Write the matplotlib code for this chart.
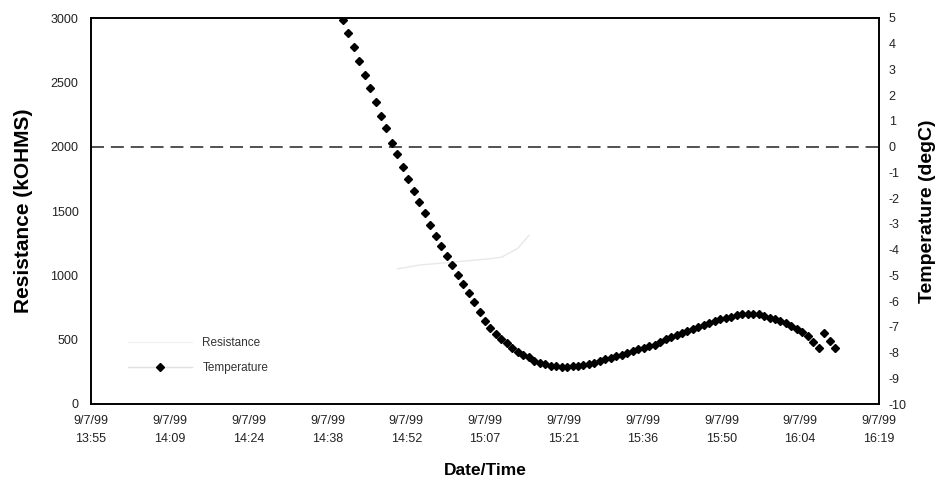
import matplotlib
matplotlib.use('Agg')
import matplotlib.pyplot as plt
from matplotlib.lines import Line2D
import numpy as np

plt.rcParams['font.family'] = ['Liberation Sans', 'DejaVu Sans']
plt.rcParams['axes.unicode_minus'] = False

# x axis: minutes after 9/7/99 13:55
tick_labels = ['9/7/99\n13:55', '9/7/99\n14:09', '9/7/99\n14:24', '9/7/99\n14:38',
               '9/7/99\n14:52', '9/7/99\n15:07', '9/7/99\n15:21', '9/7/99\n15:36',
               '9/7/99\n15:50', '9/7/99\n16:04', '9/7/99\n16:19']
x_start = 0
x_end = 144

# temperature log (degC), one reading per minute starting at 14:41
temp_start_min = 46
temp_c = [4.92, 4.41, 3.88, 3.34, 2.78, 2.27, 1.75, 1.20, 0.71, 0.15,
          -0.29, -0.78, -1.26, -1.71, -2.16, -2.59, -3.05, -3.46, -3.86, -4.25,
          -4.60, -4.99, -5.34, -5.68, -6.05, -6.41, -6.76, -7.05, -7.28, -7.48,
          -7.63, -7.81, -7.96, -8.08, -8.19, -8.31, -8.39, -8.45, -8.51, -8.54,
          -8.56, -8.56, -8.54, -8.51, -8.47, -8.43, -8.39, -8.33, -8.27, -8.21,
          -8.14, -8.08, -8.02, -7.94, -7.88, -7.83, -7.75, -7.69, -7.59, -7.48,
          -7.40, -7.32, -7.24, -7.16, -7.09, -7.01, -6.93, -6.85, -6.78, -6.70,
          -6.64, -6.60, -6.56, -6.52, -6.50, -6.50, -6.52, -6.58, -6.64, -6.70,
          -6.78, -6.85, -6.97, -7.07, -7.20, -7.36, -7.59, -7.81, -7.24, -7.55,
          -7.83]

# resistance (kOHMS) - barely visible trace
res_min = [56, 60, 64, 68, 72, 75, 78, 80]
res_kohm = [1050, 1080, 1095, 1110, 1125, 1140, 1210, 1310]

freeze_c = 0

temp_min = np.arange(len(temp_c)) + temp_start_min

fig = plt.figure(figsize=(9.45, 4.88), dpi=100)
ax = fig.add_subplot(111)
fig.subplots_adjust(left=91/945, right=879/945, top=1-18/488, bottom=1-404/488)
ax2 = ax.twinx()

ax.plot(res_min, res_kohm, color='#e8e8e8', lw=1)
ax2.axhline(freeze_c, color='#222222', lw=1.1, dashes=(8.5, 4.5))
ax2.plot(temp_min, temp_c, 'D', color='black', ms=4.5, mec='black')

ax.set_xlim(x_start, x_end)
ax.set_xticks(np.linspace(x_start, x_end, len(tick_labels)))
ax.set_xticklabels(tick_labels, linespacing=1.6)
ax.set_ylim(0, 3000)
ax.set_yticks(np.arange(0, 3001, 500))
ax2.set_ylim(-10, 5)
ax2.set_yticks(np.arange(-10, 6, 1))

for a in (ax, ax2):
    for s in a.spines.values():
        s.set_linewidth(1.2)
        s.set_color('black')
ax.tick_params(axis='both', length=0, labelsize=9, colors='#222222')
ax.tick_params(axis='y', pad=9)
ax.tick_params(axis='x', pad=8)
ax2.tick_params(axis='y', length=0, labelsize=9, colors='#222222', pad=7)

ax.set_ylabel('Resistance (kOHMS)', fontsize=15, fontweight='bold')
ax2.set_ylabel('Temperature (degC)', fontsize=14, fontweight='bold')
ax.set_xlabel('Date/Time', fontsize=12.5, fontweight='bold')
ax.yaxis.set_label_coords(-0.0736, 0.5)
ax2.yaxis.set_label_coords(1.051, 0.5)
ax.xaxis.set_label_coords(0.5, -0.153)

handles = [Line2D([], [], color='#f2f2f2', lw=1),
           Line2D([], [], color='#e0e0e0', lw=1, marker='D', ms=4.5,
                  mfc='black', mec='black')]
ax.legend(handles, ['Resistance', 'Temperature'], loc='upper left',
          bbox_to_anchor=(128/945, 1-337/488), bbox_transform=fig.transFigure,
          frameon=False, fontsize=8.5, handlelength=5.4, handletextpad=0.9,
          labelspacing=1.1, borderpad=0, borderaxespad=0, labelcolor='#333333')

fig.savefig('out.png', dpi=100)
